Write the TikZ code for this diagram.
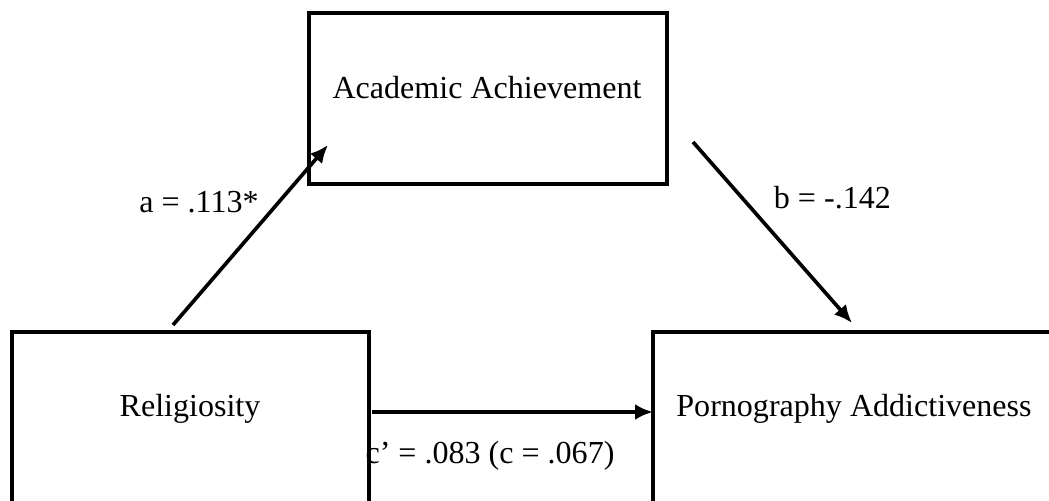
\documentclass[tikz,border=0pt]{standalone}
\usepackage{fontspec}
\setmainfont{Liberation Serif}
\usepackage{tikz}
\usetikzlibrary{arrows.meta}

\begin{document}
\begin{tikzpicture}[
  varbox/.style={line width=2.5pt},
  effect/.style={line width=2.6pt,-{Latex[length=0.45cm,width=0.4cm]}},
  every node/.style={font=\fontsize{22.8}{27}\selectfont,inner sep=0pt}]
\useasboundingbox (0,0) rectangle (26.225,12.525);
\node[anchor=base] (academic)     at (12.175,10.05) {Academic Achievement};
\node[anchor=base] (religiosity)  at ( 4.75 , 2.1 ) {Religiosity};
\node[anchor=base] (addictive)    at (21.35 , 2.1 ) {Pornography Addictiveness};
\node[anchor=base] (pathA)        at ( 4.975, 7.2 ) {a = .113*};
\node[anchor=base] (pathB)        at (20.81 , 7.3 ) {b = -.142};
\node[anchor=base] (pathC)        at (12.25 , 0.925) {c' = .083 (c = .067)};

\coordinate (aStart) at ( 4.325, 4.4  );
\coordinate (aEnd)   at ( 8.2  , 8.9  );
\coordinate (bStart) at (17.325, 8.975);
\coordinate (bEnd)   at (21.3  , 4.45 );
\coordinate (cStart) at ( 9.3  , 2.225);
\coordinate (cEnd)   at (16.325, 2.225);

\draw[varbox] (7.725,12.2) rectangle (16.675,7.925);
\draw[varbox] (0.3,4.225) rectangle (9.225,-1);
\draw[varbox] (16.325,4.225) rectangle (27.5,-1);
\draw[effect] (aStart) -- (aEnd);
\draw[effect] (bStart) -- (bEnd);
\draw[effect] (cStart) -- (cEnd);
\end{tikzpicture}
\end{document}
